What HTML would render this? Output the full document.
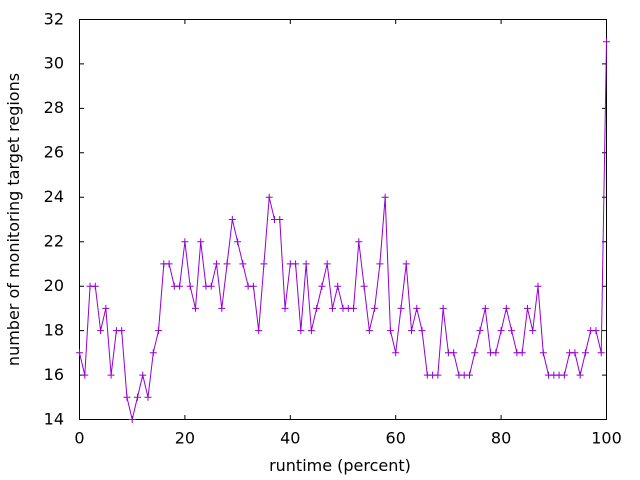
<!DOCTYPE html>
<html><head><meta charset="utf-8"><style>
html,body{margin:0;padding:0;background:#fff;}
svg{display:block;}
text{font-family:"DejaVu Sans","Liberation Sans",sans-serif;font-size:16px;fill:#000;}
</style></head><body>
<svg width="640" height="480" viewBox="0 0 640 480" xmlns="http://www.w3.org/2000/svg">
<defs>
<marker id="p" markerUnits="userSpaceOnUse" markerWidth="10" markerHeight="10" refX="5" refY="5" viewBox="0 0 10 10" overflow="visible">
<path d="M1.5,5H8.5M5,1.5V8.5" stroke="#9400d3" stroke-width="1" fill="none"/>
</marker>
</defs>
<rect width="640" height="480" fill="#fff"/>
<g stroke="#000" stroke-width="1" fill="none">
<rect x="79.5" y="19.5" width="527" height="400"/>
<path d="M79.5,375.1h4.5M79.5,330.6h4.5M79.5,286.2h4.5M79.5,241.7h4.5M79.5,197.3h4.5M79.5,152.8h4.5M79.5,108.4h4.5M79.5,63.9h4.5
M606.5,375.1h-4.5M606.5,330.6h-4.5M606.5,286.2h-4.5M606.5,241.7h-4.5M606.5,197.3h-4.5M606.5,152.8h-4.5M606.5,108.4h-4.5M606.5,63.9h-4.5
M184.9,419.5v-4.5M290.3,419.5v-4.5M395.7,419.5v-4.5M501.1,419.5v-4.5
M184.9,19.5v4.5M290.3,19.5v4.5M395.7,19.5v4.5M501.1,19.5v4.5"/>
</g>
<g text-anchor="end">
<text x="64" y="424.3">14</text>
<text x="64" y="379.9">16</text>
<text x="64" y="335.4">18</text>
<text x="64" y="291">20</text>
<text x="64" y="246.5">22</text>
<text x="64" y="202.1">24</text>
<text x="64" y="157.6">26</text>
<text x="64" y="113.2">28</text>
<text x="64" y="68.7">30</text>
<text x="64" y="24.3">32</text>
</g>
<g text-anchor="middle">
<text x="79.5" y="443.3">0</text>
<text x="184.9" y="443.3">20</text>
<text x="290.3" y="443.3">40</text>
<text x="395.7" y="443.3">60</text>
<text x="501.1" y="443.3">80</text>
<text x="606.5" y="443.3">100</text>
<text x="340" y="471">runtime (percent)</text>
<text transform="translate(19,219.5) rotate(-90)" x="0" y="0">number of monitoring target regions</text>
</g>
<polyline fill="none" stroke="#9400d3" stroke-width="1" marker-start="url(#p)" marker-mid="url(#p)" marker-end="url(#p)" points="
79.5,352.8 84.77,375.1 90.04,286.2 95.31,286.2 100.58,330.6 105.85,308.4 111.12,375.1 116.39,330.6 121.66,330.6 126.93,397.3
132.2,419.5 137.47,397.3 142.74,375.1 148.01,397.3 153.28,352.8 158.55,330.6 163.82,263.9 169.09,263.9 174.36,286.2 179.63,286.2
184.9,241.7 190.17,286.2 195.44,308.4 200.71,241.7 205.98,286.2 211.25,286.2 216.52,263.9 221.79,308.4 227.06,263.9 232.33,219.5
237.6,241.7 242.87,263.9 248.14,286.2 253.41,286.2 258.68,330.6 263.95,263.9 269.22,197.3 274.49,219.5 279.76,219.5 285.03,308.4
290.3,263.9 295.57,263.9 300.84,330.6 306.11,263.9 311.38,330.6 316.65,308.4 321.92,286.2 327.19,263.9 332.46,308.4 337.73,286.2
343,308.4 348.27,308.4 353.54,308.4 358.81,241.7 364.08,286.2 369.35,330.6 374.62,308.4 379.89,263.9 385.16,197.3 390.43,330.6
395.7,352.8 400.97,308.4 406.24,263.9 411.51,330.6 416.78,308.4 422.05,330.6 427.32,375.1 432.59,375.1 437.86,375.1 443.13,308.4
448.4,352.8 453.67,352.8 458.94,375.1 464.21,375.1 469.48,375.1 474.75,352.8 480.02,330.6 485.29,308.4 490.56,352.8 495.83,352.8
501.1,330.6 506.37,308.4 511.64,330.6 516.91,352.8 522.18,352.8 527.45,308.4 532.72,330.6 537.99,286.2 543.26,352.8 548.53,375.1
553.8,375.1 559.07,375.1 564.34,375.1 569.61,352.8 574.88,352.8 580.15,375.1 585.42,352.8 590.69,330.6 595.96,330.6 601.23,352.8
606.5,41.7"/>
</svg>
</body></html>
